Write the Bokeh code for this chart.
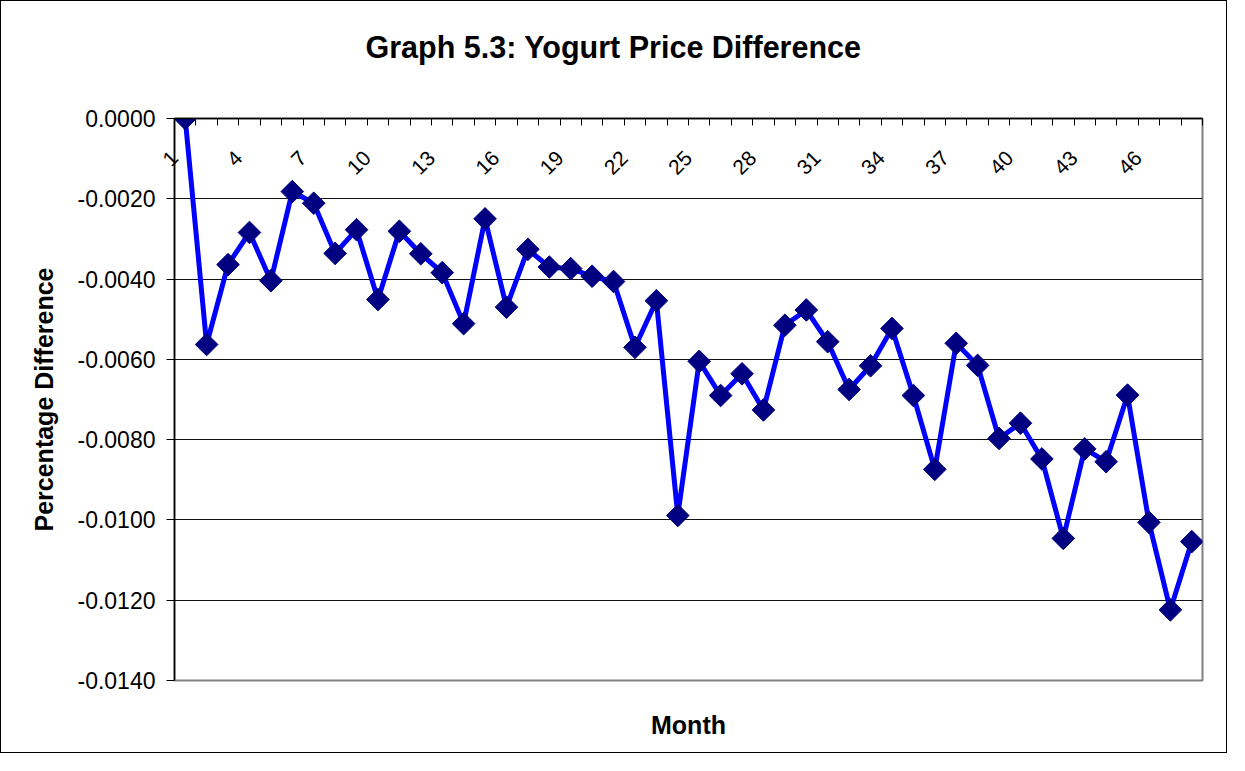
from math import pi
from bokeh.plotting import figure
from bokeh.models import (Range1d, FixedTicker, NumeralTickFormatter, LinearAxis,
                          ColumnDataSource)
from bokeh.embed import file_html
from bokeh.resources import INLINE

# ---- data ----
months = list(range(1, 49))
price_diff = [
    0.0000, -0.00563, -0.00364, -0.00284, -0.00404, -0.00182, -0.00211, -0.00336,
    -0.00277, -0.00451, -0.00281, -0.00337, -0.00384, -0.00511, -0.00250, -0.00470,
    -0.00326, -0.00370, -0.00374, -0.00393, -0.00406, -0.00570, -0.00454, -0.00989,
    -0.00605, -0.00690, -0.00636, -0.00726, -0.00515, -0.00477, -0.00556, -0.00675,
    -0.00616, -0.00523, -0.00690, -0.00874, -0.00560, -0.00615, -0.00797, -0.00759,
    -0.00848, -0.01046, -0.00823, -0.00855, -0.00689, -0.01006, -0.01224, -0.01054,
]
x_tick_months = list(range(1, 49, 3))
x_tick_labels = [str(m) for m in x_tick_months]
y_ticks = [0.0, -0.002, -0.004, -0.006, -0.008, -0.010, -0.012, -0.014]

TITLE = "Graph 5.3: Yogurt Price Difference"
X_LABEL = "Month"
Y_LABEL = "Percentage Difference"
FONT = "Liberation Sans"

# layout (pixels)
FRAME_H = 562
LABEL_DY = 36          # rotated month labels sit this far below the top axis line
LABEL_EXTENT = 33      # approx. height taken by the rotated labels
MONTH_GAP = 34         # gap between plot bottom and the "Month" text

x_start, x_end = months[0] - 0.5, months[-1] + 0.5
y_lo, y_hi = y_ticks[-1], y_ticks[0]

p = figure(width=1227, height=753, output_backend="svg", toolbar_location=None,
           x_axis_location="above",
           x_range=Range1d(x_start, x_end), y_range=Range1d(y_lo, y_hi),
           min_border_left=173, min_border_top=117, min_border_right=26,
           min_border_bottom=74)
# month labels end half a category to the left of their point
p.extra_x_ranges = {"lab": Range1d(x_start + 0.5, x_end + 0.5)}
p.styles = {"border": "1px solid #000000"}
p.background_fill_color = "white"
p.border_fill_color = "white"
p.outline_line_color = "#808080"
p.outline_line_width = 2


def bare_axis(ax):
    ax.axis_line_color = None
    ax.major_tick_line_color = None
    ax.minor_tick_line_color = None
    ax.major_tick_in = 0
    return ax


# top category axis: tick marks at the category boundaries, no labels
boundaries = [m - 0.5 for m in months] + [months[-1] + 0.5]
xa = p.xaxis[0]
xa.ticker = FixedTicker(ticks=boundaries)
xa.major_label_overrides = {b: "" for b in boundaries}
xa.major_tick_in = 7
xa.major_tick_out = 0
xa.major_tick_line_color = "black"
xa.major_tick_line_width = 1
xa.minor_tick_line_color = None
xa.axis_line_color = "black"
xa.axis_line_width = 1.5

# empty spacer between the plot and the title
spacer = bare_axis(LinearAxis(ticker=FixedTicker(ticks=[x_start]),
                              major_label_overrides={x_start: ""}))
spacer.major_tick_out = 50
spacer.major_label_standoff = 0
p.add_layout(spacer, "above")

# title
p.title.text = TITLE
p.title.text_font = FONT
p.title.text_font_size = "30.5px"
p.title.text_font_style = "bold"
p.title.align = "left"
p.title.offset = 191
p.title.text_color = "black"
p.title.standoff = 10

# month labels (rotated, just under the top edge) + "Month" title under the plot
lab_axis = bare_axis(LinearAxis(x_range_name="lab",
                                ticker=FixedTicker(ticks=x_tick_months),
                                major_label_overrides=dict(zip(x_tick_months, x_tick_labels)),
                                major_label_orientation=pi / 4,
                                axis_label=X_LABEL))
lab_axis.major_tick_out = 0
lab_axis.major_label_standoff = -(FRAME_H - LABEL_DY)
lab_axis.major_label_text_font = FONT
lab_axis.major_label_text_font_size = "21px"
lab_axis.major_label_text_color = "black"
lab_axis.axis_label_text_font = FONT
lab_axis.axis_label_text_font_size = "25px"
lab_axis.axis_label_text_font_style = "bold"
lab_axis.axis_label_text_color = "black"
lab_axis.axis_label_standoff = MONTH_GAP + (FRAME_H - LABEL_DY) - LABEL_EXTENT
p.add_layout(lab_axis, "below")

# y axis
ya = p.yaxis[0]
ya.ticker = FixedTicker(ticks=y_ticks)
ya.formatter = NumeralTickFormatter(format="0.0000")
ya.major_label_text_font = FONT
ya.major_label_text_font_size = "23px"
ya.major_label_text_color = "black"
ya.major_tick_out = 8
ya.major_tick_in = 0
ya.major_tick_line_color = "black"
ya.major_label_standoff = 11
ya.minor_tick_line_color = None
ya.axis_line_color = "black"
ya.axis_line_width = 1.5
ya.axis_label = Y_LABEL
ya.axis_label_text_font = FONT
ya.axis_label_text_font_size = "25px"
ya.axis_label_text_font_style = "bold"
ya.axis_label_text_color = "black"
ya.axis_label_standoff = 16

p.xgrid.grid_line_color = None
p.ygrid.ticker = FixedTicker(ticks=y_ticks)
p.ygrid.grid_line_color = "#111111"
p.ygrid.grid_line_width = 1

src = ColumnDataSource(dict(x=months, y=price_diff))
p.line(x="x", y="y", source=src, line_color="#0000FF", line_width=5)
p.scatter(x="x", y="y", source=src, marker="square", size=16, angle=pi / 4,
          fill_color="#000080", line_color="#000080")

open("out.html", "w").write(file_html(p, INLINE))
